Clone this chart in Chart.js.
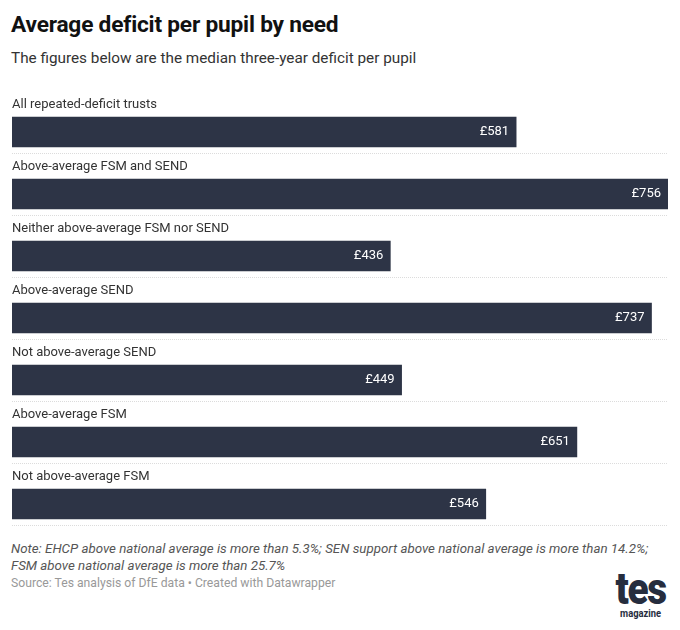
<!DOCTYPE html>
<html>
<head>
<meta charset="utf-8">
<script src="https://cdn.jsdelivr.net/npm/chart.js@4"></script>
<style>
  body { margin: 0; background: #fff; font-family: Roboto, sans-serif; width: 680px; height: 630px; position: relative; overflow: hidden; }
  #title { position: absolute; left: 11px; top: 11px; font-size: 22.7px; font-weight: 700; color: #111; letter-spacing: -0.2px; }
  #subtitle { position: absolute; left: 11px; top: 49px; font-size: 15.3px; color: #333; }
  #wrap { position: absolute; left: 0; top: 90px; width: 680px; height: 450px; }
  #note { position: absolute; left: 11px; top: 540px; font-size: 13.3px; font-style: italic; color: #555; line-height: 17px; }
  #source { position: absolute; left: 11px; top: 576px; font-size: 12.2px; color: #999; }
  #logo { position: absolute; right: 11px; top: 570px; text-align: center; color: #262d3e; }
  #logo .tes { font-size: 44px; font-weight: 900; line-height: 38px; letter-spacing: -1.5px; transform: scaleX(0.88); }
  #logo .mag { font-size: 11px; font-weight: 700; line-height: 12px; transform: scaleX(0.85); }
</style>
</head>
<body>
<div id="title">Average deficit per pupil by need</div>
<div id="subtitle">The figures below are the median three-year deficit per pupil</div>
<div id="wrap"><canvas id="chart"></canvas></div>
<div id="note">Note: EHCP above national average is more than 5.3%; SEN support above national average is more than 14.2%;<br>FSM above national average is more than 25.7%</div>
<div id="source">Source: Tes analysis of DfE data • Created with Datawrapper</div>
<div id="logo"><div class="tes">tes</div><div class="mag">magazine</div></div>
<script>
// Categorías y valores (mediana del déficit en tres años por alumno, £)
const categories = [
    'All repeated-deficit trusts',
    'Above-average FSM and SEND',
    'Neither above-average FSM nor SEND',
    'Above-average SEND',
    'Not above-average SEND',
    'Above-average FSM',
    'Not above-average FSM'
];
const deficits = [581, 756, 436, 737, 449, 651, 546];
const axisMax = 756;

// Etiquetas encima de cada barra, valores dentro y separadores punteados
const rowDecor = {
    id: 'rowDecor',
    afterDatasetsDraw(chart) {
        const ctx = chart.ctx;
        const area = chart.chartArea;
        const meta = chart.getDatasetMeta(0);
        meta.data.forEach((bar, i) => {
            ctx.save();
            ctx.font = '13px Roboto, sans-serif';
            ctx.fillStyle = '#333';
            ctx.textAlign = 'left';
            ctx.textBaseline = 'middle';
            ctx.fillText(categories[i], area.left, bar.y - 27);

            ctx.fillStyle = '#fff';
            ctx.textAlign = 'right';
            ctx.fillText('£' + deficits[i], bar.x - 7, bar.y);

            ctx.strokeStyle = '#dcdcdc';
            ctx.lineWidth = 1;
            ctx.setLineDash([1, 1]);
            ctx.beginPath();
            ctx.moveTo(area.left, Math.round(bar.y + 21) + 0.5);
            ctx.lineTo(area.right, Math.round(bar.y + 21) + 0.5);
            ctx.stroke();
            ctx.restore();
        });
    }
};

new Chart(document.getElementById('chart').getContext('2d'), {
    type: 'bar',
    data: {
        labels: categories,
        datasets: [{
            data: deficits,
            backgroundColor: '#2d3446',
            barThickness: 30,
            borderWidth: 0
        }]
    },
    options: {
        indexAxis: 'y',
        responsive: true,
        maintainAspectRatio: false,
        animation: false,
        layout: { padding: { left: 12, right: 12, top: 11, bottom: 5 } },
        plugins: {
            legend: { display: false },
            tooltip: { enabled: false }
        },
        scales: {
            x: { display: false, min: 0, max: axisMax },
            y: { display: false }
        }
    },
    plugins: [rowDecor]
});
</script>
</body>
</html>
